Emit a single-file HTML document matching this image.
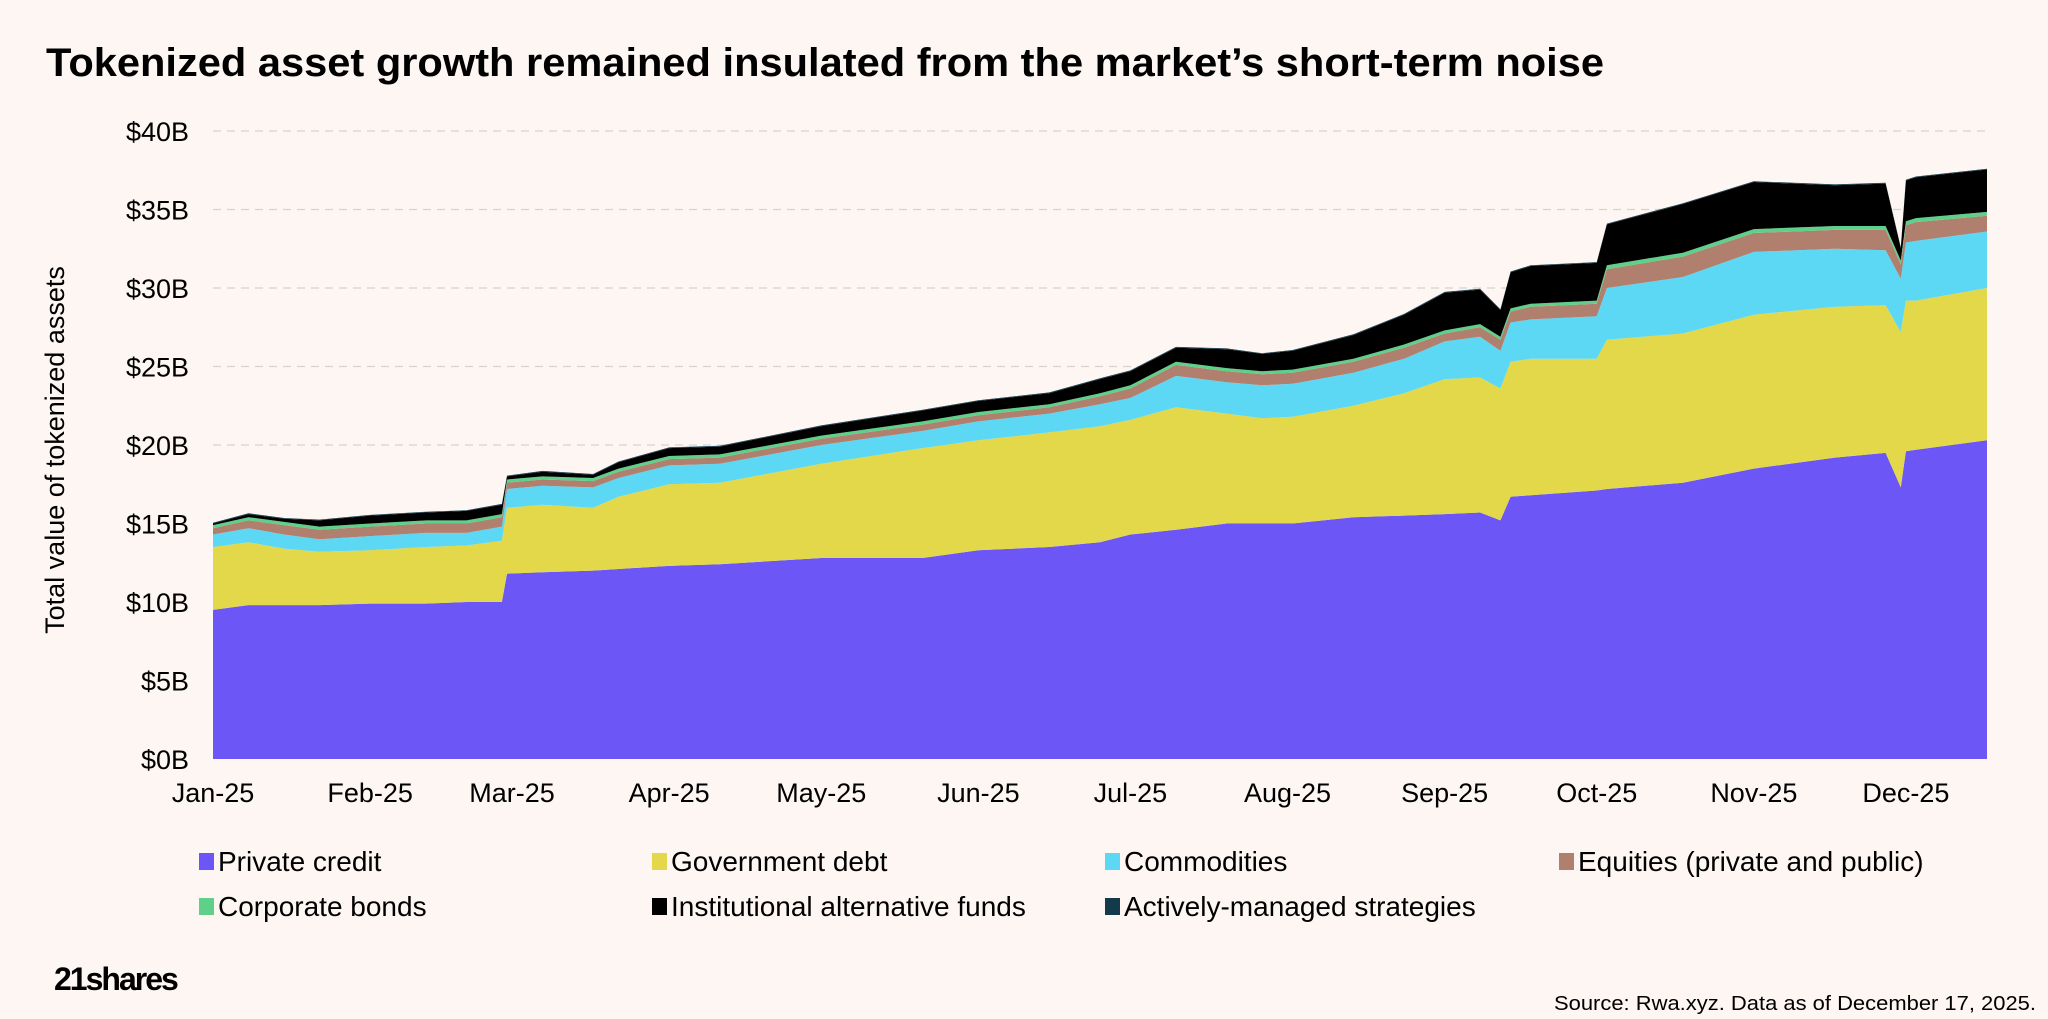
<!DOCTYPE html>
<html><head><meta charset="utf-8"><style>
html,body{margin:0;padding:0;background:#fdf6f2;}
svg{display:block;font-family:"Liberation Sans",sans-serif;}
</style></head><body>
<svg id="chart" width="2048" height="1019" viewBox="0 0 2048 1019" xmlns="http://www.w3.org/2000/svg">
<rect width="2048" height="1019" fill="#fdf6f2"/>
<text x="46" y="76" font-size="40" font-weight="bold" fill="#000" textLength="1558" lengthAdjust="spacingAndGlyphs">Tokenized asset growth remained insulated from the market’s short-term noise</text>
<g id="grid"></g>
<g id="areas"></g>
<g id="yticks"></g>
<g id="xticks"></g>
<text transform="translate(64,450) rotate(-90)" text-anchor="middle" font-size="27" fill="#000">Total value of tokenized assets</text>
<g id="legend"></g>
<text x="54" y="990" font-size="32" font-weight="bold" fill="#000" letter-spacing="-2">21shares</text>
<text x="2036" y="1010" text-anchor="end" font-size="20" fill="#000" textLength="482" lengthAdjust="spacingAndGlyphs">Source: Rwa.xyz. Data as of December 17, 2025.</text>
</svg>
<script>
const days = [0,7,14,21,31,42,50,57,58,65,75,80,90,100,120,140,151,165,175,181,190,200,207,213,225,235,243,250,254,256,260,273,275,290,304,320,330,333,334,336,350];
const privateCredit = [9.5,9.8,9.8,9.8,9.9,9.9,10.0,10.0,11.8,11.9,12.0,12.1,12.3,12.4,12.8,12.8,13.3,13.5,13.8,14.3,14.6,15.0,15.0,15.0,15.4,15.5,15.6,15.7,15.2,16.7,16.8,17.1,17.2,17.6,18.5,19.2,19.5,17.3,19.6,19.7,20.3];
const governmentDebt = [4.0,4.0,3.6,3.4,3.4,3.6,3.6,3.9,4.2,4.3,4.0,4.6,5.2,5.2,6.0,7.0,7.0,7.3,7.4,7.3,7.8,7.0,6.7,6.8,7.1,7.8,8.6,8.6,8.4,8.6,8.7,8.4,9.5,9.5,9.8,9.6,9.4,9.9,9.6,9.5,9.7];
const commodities = [0.8,0.9,0.9,0.8,0.9,0.9,0.8,0.9,1.2,1.2,1.3,1.2,1.2,1.2,1.2,1.1,1.2,1.2,1.4,1.4,2.0,2.0,2.1,2.1,2.1,2.2,2.4,2.6,2.4,2.5,2.5,2.7,3.3,3.6,4.0,3.7,3.5,3.4,3.7,3.8,3.6];
const equities = [0.4,0.5,0.6,0.6,0.6,0.6,0.6,0.6,0.4,0.4,0.4,0.4,0.4,0.4,0.4,0.4,0.4,0.4,0.5,0.6,0.7,0.7,0.7,0.7,0.7,0.7,0.5,0.6,0.7,0.7,0.8,0.8,1.2,1.3,1.2,1.2,1.3,0.9,1.1,1.2,1.0];
const corporateBonds = [0.2,0.2,0.2,0.2,0.2,0.2,0.2,0.2,0.2,0.2,0.2,0.2,0.2,0.2,0.2,0.2,0.2,0.2,0.2,0.2,0.2,0.2,0.2,0.2,0.2,0.2,0.2,0.2,0.2,0.2,0.2,0.2,0.25,0.25,0.25,0.25,0.25,0.25,0.25,0.25,0.25];
const institutionalFunds = [0.1,0.2,0.2,0.4,0.5,0.5,0.6,0.6,0.2,0.3,0.2,0.4,0.5,0.5,0.6,0.7,0.7,0.7,0.9,0.9,0.9,1.2,1.1,1.2,1.5,1.9,2.4,2.2,1.7,2.3,2.4,2.4,2.6,3.1,3.0,2.6,2.7,0.8,2.6,2.6,2.7];
const activeStrategies = [0.05,0.05,0.05,0.05,0.05,0.05,0.05,0.05,0.05,0.05,0.05,0.05,0.05,0.05,0.05,0.05,0.05,0.05,0.05,0.05,0.05,0.05,0.05,0.05,0.05,0.05,0.05,0.05,0.05,0.05,0.05,0.05,0.05,0.05,0.05,0.05,0.05,0.05,0.05,0.05,0.05];
const seriesNames = ["Private credit","Government debt","Commodities","Equities (private and public)","Corporate bonds","Institutional alternative funds","Actively-managed strategies"];
const yTickValues = [0,5,10,15,20,25,30,35,40];
const xTickLabels = ["Jan-25","Feb-25","Mar-25","Apr-25","May-25","Jun-25","Jul-25","Aug-25","Sep-25","Oct-25","Nov-25","Dec-25"];
const xTickDays = [0,31,59,90,120,151,181,212,243,273,304,334];

const colors = ["#6c56f5","#e3d84a","#5cd8f5","#b07f6e","#5ed08a","#000000","#123a4a"];
const NS = "http://www.w3.org/2000/svg";
const X0=213, X1=1987, Y0=759, Y1=131, DMAX=350, VMAX=40;
const xs = d => X0 + (d/DMAX)*(X1-X0);
const ys = v => Y0 - (v/VMAX)*(Y0-Y1);
function mk(tag, attrs, parent){const e=document.createElementNS(NS,tag);for(const k in attrs)e.setAttribute(k,attrs[k]);parent.appendChild(e);return e;}

const grid=document.getElementById('grid'), yt=document.getElementById('yticks');
yTickValues.forEach(v=>{
  if(v>0){const l=mk('line',{x1:X0,x2:1985,y1:ys(v),y2:ys(v),stroke:'#d9d2ce','stroke-width':1.3,'stroke-dasharray':'8 6'},grid);
  
  }
  const t=mk('text',{x:189,y:ys(v)+10,'text-anchor':'end','font-size':27,fill:'#000'},yt);
  
  
  t.textContent='$'+v+'B';
});
const xt=document.getElementById('xticks');
xTickLabels.forEach((s,i)=>{
  const t=mk('text',{x:xs(xTickDays[i]),y:802,'text-anchor':'middle','font-size':27,fill:'#000'},xt);
  
  
  t.textContent=s;
});

const series=[privateCredit,governmentDebt,commodities,equities,corporateBonds,institutionalFunds,activeStrategies];
const areas=document.getElementById('areas');
let base=days.map(()=>0);
series.forEach((s,si)=>{
  const top=base.map((b,i)=>b+s[i]);
  let d='M'+days.map((dd,i)=>xs(dd).toFixed(1)+','+ys(top[i]).toFixed(1)).join(' L');
  for(let i=days.length-1;i>=0;i--) d+=' L'+xs(days[i]).toFixed(1)+','+ys(base[i]).toFixed(1);
  d+='Z';
  const p=mk('path',{d:d,fill:colors[si]},areas);
  
  
  base=top;
});

const lg=document.getElementById('legend');
const cols=[199,652,1105,1559], rows=[861,906];
seriesNames.forEach((n,i)=>{
  const cx=cols[i%4], cy=rows[Math.floor(i/4)];
  const g=mk('g',{},lg);
  
  
  mk('rect',{x:cx,y:cy-8,width:15,height:17,fill:colors[i]},g);
  const t=mk('text',{x:cx+19,y:cy+10,'font-size':28,fill:'#000'},g);
  t.textContent=n;
});
</script>
</body></html>
